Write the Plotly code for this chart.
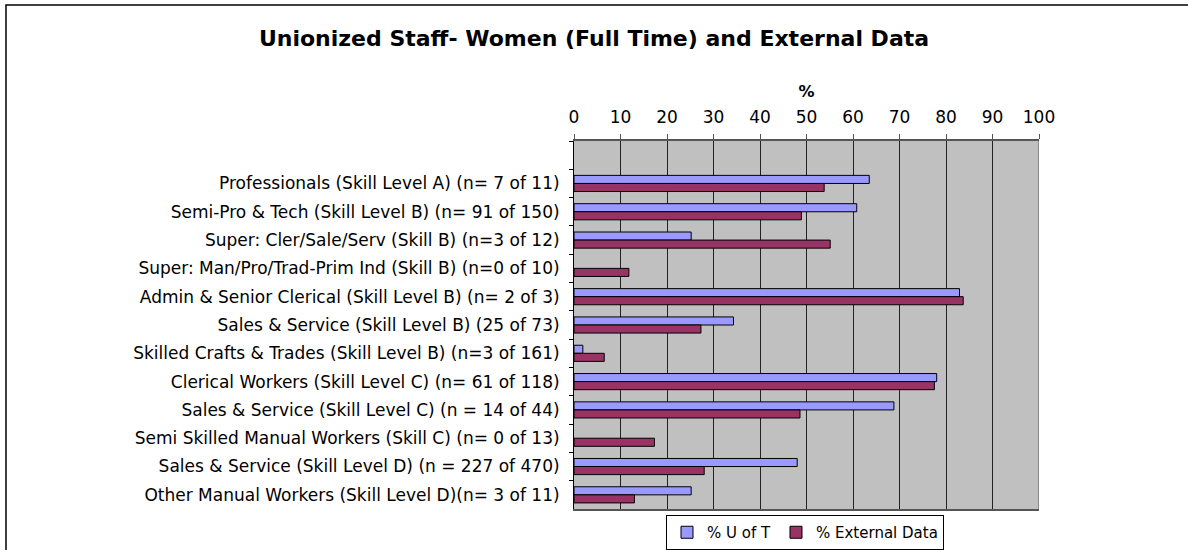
import plotly.graph_objects as go

categories = [
    " ",
    "Professionals (Skill Level A) (n= 7 of 11)",
    "Semi-Pro & Tech (Skill Level B) (n= 91 of 150)",
    "Super: Cler/Sale/Serv (Skill B) (n=3 of 12)",
    "Super: Man/Pro/Trad-Prim Ind (Skill B) (n=0 of 10)",
    "Admin & Senior Clerical (Skill Level B) (n= 2 of 3)",
    "Sales & Service (Skill Level B) (25 of 73)",
    "Skilled Crafts & Trades (Skill Level B) (n=3 of 161)",
    "Clerical Workers (Skill Level C) (n= 61 of 118)",
    "Sales & Service (Skill Level C) (n = 14 of 44)",
    "Semi Skilled Manual Workers (Skill C) (n= 0 of 13)",
    "Sales & Service (Skill Level D) (n = 227 of 470)",
    "Other Manual Workers (Skill Level D)(n= 3 of 11)",
]
bar_categories = categories[1:]
u_of_t = [63.5, 60.8, 25.2, 0, 82.9, 34.3, 1.9, 78.0, 68.8, 0, 48.0, 25.2]
external = [53.8, 48.9, 55.1, 11.8, 83.7, 27.3, 6.5, 77.5, 48.6, 17.3, 28.0, 13.0]
x_ticks = [0, 10, 20, 30, 40, 50, 60, 70, 80, 90, 100]

FONT = "DejaVu Sans, Arial, sans-serif"

W, H = 1188, 550
PL, PR, PT, PB = 574, 1039, 141, 509   # plot area in pixels
PW, PH = PR - PL, PB - PT


def nonzero(values):
    # zero-length bars are not drawn in the original chart
    return [v if v else None for v in values]


fig = go.Figure()
fig.add_trace(go.Bar(
    y=bar_categories, x=nonzero(u_of_t), orientation="h", name="% U of T",
    marker=dict(color="#9999FF", line=dict(color="#000000", width=1)),
))
fig.add_trace(go.Bar(
    y=bar_categories, x=nonzero(external), orientation="h", name="% External Data",
    marker=dict(color="#993366", line=dict(color="#000000", width=1)),
))

fig.update_layout(
    width=W, height=H,
    margin=dict(l=PL, r=W - PR, t=PT, b=H - PB, autoexpand=False),
    paper_bgcolor="white",
    plot_bgcolor="#C0C0C0",
    barmode="group",
    bargap=0.43,
    bargroupgap=0,
    font=dict(family=FONT, size=16, color="#000000"),
    title=dict(
        text="<b>Unionized Staff- Women (Full Time) and External Data</b>",
        x=0.5, xref="container", xanchor="center",
        y=1 - 38 / H, yref="container", yanchor="middle",
        font=dict(family=FONT, size=22, color="#000000"),
    ),
    xaxis=dict(
        side="top", range=[0, 100], tickvals=x_ticks,
        ticktext=[str(v) for v in x_ticks],
        showgrid=True, gridcolor="#222222", gridwidth=1,
        showline=True, linecolor="#555555", linewidth=2, mirror=True,
        ticks="outside", ticklen=5, tickcolor="#555555",
        tickfont=dict(size=17), ticklabelstandoff=4,
        title=dict(text="<b>%</b>", font=dict(size=16), standoff=6),
        zeroline=False, fixedrange=True,
    ),
    yaxis=dict(
        type="category", categoryorder="array", categoryarray=categories,
        range=[12.5, -0.5],
        tickson="boundaries", ticks="outside", ticklen=4, tickcolor="#000000",
        showline=True, linecolor="#000000", linewidth=1, mirror=False,
        showgrid=False, tickfont=dict(size=17), ticklabelstandoff=10,
        fixedrange=True,
    ),
    legend=dict(
        orientation="h", x=(805 - PL) / PW, xref="paper",
        xanchor="center", y=(PB - 515) / PH, yanchor="top", traceorder="normal",
        bordercolor="#000000", borderwidth=1, bgcolor="white",
        font=dict(size=15), itemwidth=30,
    ),
    showlegend=True,
    shapes=[
        # right border of plot area
        dict(type="line", xref="x", yref="paper", x0=100, x1=100, y0=0, y1=1,
             line=dict(color="#555555", width=1)),
        # outer chart border (cropped on right and bottom)
        dict(type="rect", xref="paper", yref="paper",
             x0=(6 - PL) / PW, x1=(W + 20 - PL) / PW,
             y0=(PB - (H + 20)) / PH, y1=1 + (PT - 5) / PH,
             line=dict(color="#000000", width=1.5), fillcolor="rgba(0,0,0,0)"),
    ],
)

fig.write_html(
    "out.html",
    config={"displayModeBar": False},
    post_script="document.body.style.margin='0';",
)
